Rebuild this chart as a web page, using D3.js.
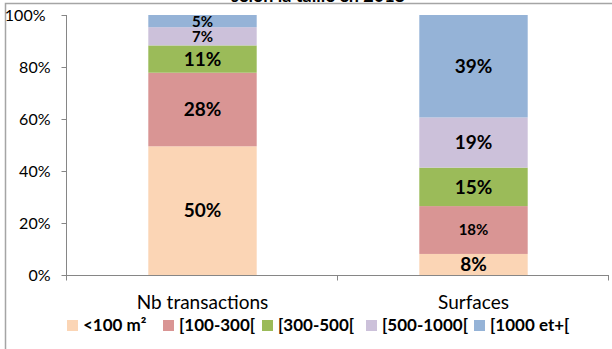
<!DOCTYPE html>
<html>
<head>
<meta charset="utf-8">
<script src="https://cdn.jsdelivr.net/npm/d3@7"></script>
<style>
  body { margin: 0; background: #fff; }
  svg { display: block; font-family: Lato, "Open Sans", sans-serif; }
</style>
</head>
<body>
<svg id="chart" width="612" height="349"></svg>
<script>
// data
var categories = ["Nb transactions", "Surfaces"];
var seriesNames = ["<100 m²", "[100-300[", "[300-500[", "[500-1000[", "[1000 et+["];
var nbTransactions = [49.5, 28.3, 10.5, 7.0, 4.7];
var surfaces = [8.1, 18.4, 14.8, 19.3, 39.4];
var yTicks = [0, 20, 40, 60, 80, 100];
var colors = ["#fbd5b5", "#d99594", "#9bbb59", "#ccc1da", "#95b3d7"];

// labels Excel shows in a smaller size
var smallLabels = ["Nb transactions|[500-1000[", "Nb transactions|[1000 et+[", "Surfaces|[100-300["];

var rows = categories.map(function(c, i) {
  var vals = i == 0 ? nbTransactions : surfaces;
  var r = {cat: c};
  seriesNames.forEach(function(s, j) { r[s] = vals[j]; });
  return r;
});

var svg = d3.select("#chart"),
    width = +svg.attr("width"),
    height = +svg.attr("height"),
    marginLeft = 67,
    marginRight = 3,
    marginTop = 15,
    plotBottom = 275;

svg.append("rect").attr("width", width).attr("height", height).attr("fill", "#fff");

// chart area border (only top and left visible)
svg.append("path")
  .attr("d", "M5.5," + height + "V3.5H" + width)
  .attr("fill", "none")
  .attr("stroke", "#a5a5a5")
  .attr("stroke-width", 1.5);

// title, mostly cut off at the top
svg.append("text")
  .attr("x", 318)
  .attr("y", 1.5)
  .attr("text-anchor", "middle")
  .style("font-weight", "bold")
  .style("font-size", "18px")
  .text("selon la taille en 2018");

var x = d3.scaleBand()
  .domain(categories)
  .range([marginLeft, width - marginRight])
  .paddingInner(0.6)
  .paddingOuter(0.3);

var y = d3.scaleLinear()
  .domain([0, 100])
  .range([plotBottom, marginTop]);

var stacked = d3.stack().keys(seriesNames)(rows);

// y axis
var yAxis = svg.append("g")
  .attr("transform", "translate(" + (marginLeft - 0.5) + ",0)")
  .call(d3.axisLeft(y).tickValues(yTicks).tickSize(5).tickPadding(11).tickFormat(function(d) { return d + "%"; }));
yAxis.selectAll("path, line").attr("stroke", "#868686");
yAxis.selectAll("text")
  .style("font-size", "16px")
  .style("font-family", "Lato, sans-serif")
  .attr("fill", "#000")
  .attr("dy", "0.35em");
yAxis.select("path").attr("d", "M0," + y(100) + "V" + y(0));
// top label sits a bit further left in the original
yAxis.selectAll(".tick").filter(function(d) { return d == 100; }).select("text").attr("x", -21);

// bars
var groups = svg.append("g")
  .selectAll("g")
  .data(stacked)
  .enter()
  .append("g")
  .attr("fill", function(d, i) { return colors[i]; });

groups.selectAll("rect")
  .data(function(d) { return d; })
  .enter()
  .append("rect")
  .attr("x", function(d) { return x(d.data.cat); })
  .attr("width", x.bandwidth())
  .attr("y", function(d) { return y(d[1]); })
  .attr("height", function(d) { return y(d[0]) - y(d[1]); });

// value labels
groups.each(function(s) {
  d3.select(this).selectAll("text")
    .data(s)
    .enter()
    .append("text")
    .attr("x", function(d) { return x(d.data.cat) + x.bandwidth() / 2; })
    .attr("y", function(d) { return (y(d[0]) + y(d[1])) / 2; })
    .attr("dy", "0.36em")
    .attr("text-anchor", "middle")
    .attr("fill", "#000")
    .style("font-weight", "bold")
    .style("font-size", function(d) {
      return smallLabels.indexOf(d.data.cat + "|" + s.key) >= 0 ? "15px" : "19px";
    })
    .text(function(d) { return Math.round(d[1] - d[0]) + "%"; });
});

// x axis
var xAxis = svg.append("g")
  .attr("transform", "translate(0," + (plotBottom + 0.5) + ")");
xAxis.append("line")
  .attr("x1", marginLeft - 5).attr("x2", width - marginRight)
  .attr("stroke", "#868686");
var bounds = [marginLeft].concat(categories.map(function(c) { return x(c) + x.bandwidth() / 2 + x.step() / 2; }));
xAxis.selectAll(".bt")
  .data(bounds)
  .enter()
  .append("line")
  .attr("class", "bt")
  .attr("x1", function(d) { return d - 0.5; })
  .attr("x2", function(d) { return d - 0.5; })
  .attr("y1", 0).attr("y2", 5)
  .attr("stroke", "#868686");

svg.append("g")
  .selectAll("text")
  .data(categories)
  .enter()
  .append("text")
  .attr("x", function(d) { return x(d) + x.bandwidth() / 2; })
  .attr("y", 309)
  .attr("text-anchor", "middle")
  .style("font-size", "19px")
  .text(function(d) { return d; });

// legend
var legendX = [67, 163, 262, 366, 474];
var legend = svg.append("g")
  .selectAll("g")
  .data(seriesNames)
  .enter()
  .append("g")
  .attr("transform", function(d, i) { return "translate(" + legendX[i] + ",320)"; });
legend.append("rect")
  .attr("width", 11).attr("height", 11)
  .attr("fill", function(d, i) { return colors[i]; });
legend.append("text")
  .attr("x", 16)
  .attr("y", 11)
  .style("font-weight", "bold")
  .style("font-size", "17px")
  .text(function(d) { return d; });
</script>
</body>
</html>
